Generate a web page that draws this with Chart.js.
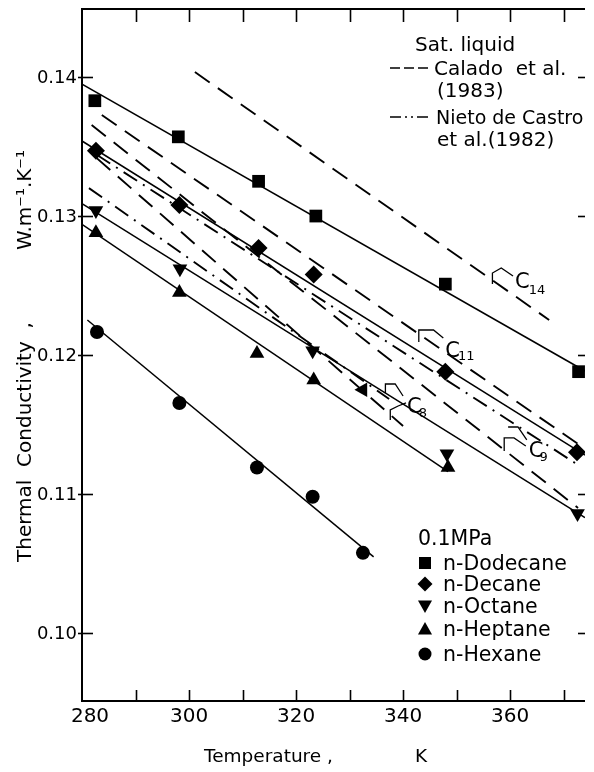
<!DOCTYPE html>
<html><head><meta charset="utf-8">
<script src="https://cdn.jsdelivr.net/npm/chart.js@4/dist/chart.umd.min.js"></script>
<style>html,body{margin:0;padding:0;background:#fff;overflow:hidden}</style>
</head><body>
<canvas id="c" width="594" height="772"></canvas>
<script>
// ---- measured points (Temperature K, thermal conductivity W m-1 K-1), 0.1 MPa ----
const dodecaneT = [282.4, 298.0, 313.0, 323.7, 347.9, 372.8];
const dodecaneK = [0.1383, 0.1357, 0.1325, 0.1300, 0.1251, 0.1188];
const decaneT   = [282.6, 298.2, 313.0, 323.3, 347.9, 372.5];
const decaneK   = [0.1347, 0.1308, 0.1277, 0.1258, 0.1188, 0.1130];
const octaneT   = [282.6, 298.3, 323.1, 332.5, 348.2, 372.6];
const octaneK   = [0.1304, 0.1262, 0.1203, 0.1175, 0.1129, 0.1086];
const heptaneT  = [282.6, 298.2, 312.7, 323.3, 348.4];
const heptaneK  = [0.1288, 0.1245, 0.1201, 0.1182, 0.1119];
const hexaneT   = [282.8, 298.2, 312.7, 323.1, 332.5];
const hexaneK   = [0.12165, 0.11655, 0.1119, 0.1098, 0.10576];

// ---- fitted solid lines (end points) ----
const dodecaneFitT = [280, 374];   const dodecaneFitK = [0.1395, 0.11885];
const decaneFitT   = [280, 374];   const decaneFitK   = [0.1354, 0.1128];
const octaneFitT   = [280, 374];   const octaneFitK   = [0.1309, 0.1083];
const heptaneFitT  = [280, 348.4]; const heptaneFitK  = [0.1294, 0.1116];
const hexaneFitT   = [281, 334.5]; const hexaneFitK   = [0.12252, 0.10547];

// ---- saturated liquid references ----
const calado14T = [301.1, 367.3]; const calado14K = [0.14036, 0.12252];
const calado11T = [283.7, 372.7]; const calado11K = [0.13727, 0.1136];
const calado9T  = [281.8, 372.7]; const calado9K  = [0.13655, 0.10899];
const calado8T  = [282.75, 340];  const calado8K  = [0.13417, 0.11489];
const nieto9T   = [282.75, 372.7]; const nieto9K  = [0.13441, 0.11209];
const nieto8T   = [281.3, 337.4]; const nieto8K   = [0.13201, 0.11683];

// ---- axes ----
const xMin = 280, xMax = 374, yMin = 0.0951, yMax = 0.1449;
const xTickMarks = [290, 300, 310, 320, 330, 340, 350, 360, 370];
const xTickLabels = [280, 300, 320, 340, 360];
const yTickValues = [0.10, 0.11, 0.12, 0.13, 0.14];
const yTickLabels = ['0.10', '0.11', '0.12', '0.13', '0.14'];

// ---- texts ----
const xTitleMain = 'Temperature ,';
const xTitleUnit = 'K';
const yTitleMain = 'Thermal  Conductivity  ,';
const yTitleUnit = 'W.m\u207B\u00B9.K\u207B\u00B9';
const refTitle = 'Sat. liquid';
const refNames = [['Calado  et al.', '(1983)'], ['Nieto de Castro', 'et al.(1982)']];
const seriesNames = ['n-Dodecane', 'n-Decane', 'n-Octane', 'n-Heptane', 'n-Hexane'];
const pressureLabel = '0.1MPa';

// curve labels: [main, subscript, text anchor (T,k), subscript anchor (T,k), bracket polylines in (T,k)]
const curveLabels = [
  {c: 'C', s: '14', at: [360.92, 0.12482], sat: [363.49, 0.12439],
   br: [[[356.70, 0.125108], [356.70, 0.125899], [358.35, 0.126259], [360.55, 0.125683]]]},
  {c: 'C', s: '11', at: [347.89, 0.119856], sat: [350.28, 0.119640],
   br: [[[342.94, 0.120935], [342.94, 0.121799], [345.69, 0.121799], [347.52, 0.121223]]]},
  {c: 'C', s: '9', at: [363.49, 0.112662], sat: [365.50, 0.112374],
   br: [[[359.63, 0.114820], [361.47, 0.114820], [363.12, 0.113885]],
        [[358.90, 0.113094], [358.90, 0.114029], [360.73, 0.114029], [362.94, 0.113453]]]},
  {c: 'C', s: '8', at: [340.73, 0.115827], sat: [342.94, 0.115540],
   br: [[[336.70, 0.117266], [336.70, 0.117914], [338.53, 0.117914], [340.00, 0.117050]],
        [[337.61, 0.115324], [337.61, 0.116043], [339.08, 0.116331], [340.55, 0.116547]]]}
];

function pts(T, K) { return T.map((t, i) => ({x: t, y: K[i]})); }
function markerSet(T, K, style, r, rot) {
  return {data: pts(T, K), pointStyle: style, pointRadius: r, pointHoverRadius: r,
    pointRotation: rot, backgroundColor: '#000', pointBackgroundColor: '#000',
    pointBorderWidth: 0, borderWidth: 0, showLine: false, order: 0};
}
function lineSet(T, K, dash, w) {
  return {data: pts(T, K), showLine: true, borderColor: '#000', borderWidth: w,
    borderDash: dash, pointRadius: 0, pointHoverRadius: 0, fill: false, tension: 0, order: 1};
}

const solidW = 1.5, refW = 1.9;
const caladoDash = [18, 10];
const nietoDash = [16, 7, 2, 7];

const datasets = [
  lineSet(dodecaneFitT, dodecaneFitK, [], solidW),
  lineSet(decaneFitT, decaneFitK, [], solidW),
  lineSet(octaneFitT, octaneFitK, [], solidW),
  lineSet(heptaneFitT, heptaneFitK, [], solidW),
  lineSet(hexaneFitT, hexaneFitK, [], solidW),
  lineSet(calado14T, calado14K, caladoDash, refW),
  lineSet(calado11T, calado11K, caladoDash, refW),
  lineSet(calado9T, calado9K, caladoDash, refW),
  lineSet(calado8T, calado8K, caladoDash, refW),
  lineSet(nieto9T, nieto9K, nietoDash, refW),
  lineSet(nieto8T, nieto8K, nietoDash, refW),
  markerSet(dodecaneT, dodecaneK, 'rect', 9, 0),
  markerSet(decaneT, decaneK, 'rectRot', 9, 0),
  markerSet(octaneT, octaneK, 'triangle', 8.5, [180, 180, 180, 270, 180, 180]),
  markerSet(heptaneT, heptaneK, 'triangle', 8.5, 0),
  markerSet(hexaneT, hexaneK, 'circle', 7, 0)
];

const FONT = '"DejaVu Sans", sans-serif';

function seg(ctx, x1, y1, x2, y2) { ctx.beginPath(); ctx.moveTo(x1, y1); ctx.lineTo(x2, y2); ctx.stroke(); }

function drawMarker(ctx, kind, x, y) {
  ctx.beginPath();
  if (kind === 0) { ctx.rect(x - 6, y - 6, 12, 12); }
  else if (kind === 1) { ctx.moveTo(x, y - 7.5); ctx.lineTo(x + 7.5, y); ctx.lineTo(x, y + 7.5); ctx.lineTo(x - 7.5, y); ctx.closePath(); }
  else if (kind === 2) { ctx.moveTo(x - 7, y - 5.5); ctx.lineTo(x + 7, y - 5.5); ctx.lineTo(x, y + 7); ctx.closePath(); }
  else if (kind === 3) { ctx.moveTo(x - 7, y + 5.5); ctx.lineTo(x + 7, y + 5.5); ctx.lineTo(x, y - 7); ctx.closePath(); }
  else { ctx.arc(x, y, 6.5, 0, Math.PI * 2); }
  ctx.fill();
}

const framePlugin = {
  id: 'frame',
  beforeDatasetsDraw(chart) {
    const ctx = chart.ctx, xs = chart.scales.x, ys = chart.scales.y, ca = chart.chartArea;
    ctx.save();
    ctx.strokeStyle = '#000'; ctx.fillStyle = '#000';
    ctx.lineWidth = 2;
    seg(ctx, ca.left, ca.top - 1, ca.left, ca.bottom + 1);
    seg(ctx, ca.left - 1, ca.bottom, ca.right, ca.bottom);
    seg(ctx, ca.left - 1, ca.top, ca.right, ca.top);
    ctx.lineWidth = 1.6;
    xTickMarks.forEach(t => {
      const px = Math.round(xs.getPixelForValue(t)) + 0.5;
      seg(ctx, px, ca.bottom, px, ca.bottom - 11);
      seg(ctx, px, ca.top, px, ca.top + 13);
    });
    yTickValues.forEach(v => {
      const py = Math.round(ys.getPixelForValue(v)) + 0.5;
      seg(ctx, ca.left - 4, py, ca.left + 11, py);
      seg(ctx, ca.right - 7, py, ca.right, py);
    });
    // tick labels
    ctx.font = '18px ' + FONT;
    ctx.textAlign = 'right'; ctx.textBaseline = 'middle';
    yTickValues.forEach((v, i) => {
      ctx.fillText(yTickLabels[i], ca.left - 5, ys.getPixelForValue(v) + 1);
    });
    ctx.font = '20px ' + FONT;
    ctx.textAlign = 'center';
    xTickLabels.forEach(t => {
      const px = Math.max(xs.getPixelForValue(t), ca.left + 8);
      ctx.fillText(String(t), px, ca.bottom + 16);
    });
    // axis titles
    ctx.textAlign = 'left'; ctx.textBaseline = 'alphabetic';
    ctx.font = '18.5px ' + FONT;
    ctx.fillText(xTitleMain, 204, 762);
    ctx.fillText(xTitleUnit, 415, 762);
    ctx.font = '20px ' + FONT;
    ctx.save(); ctx.translate(31, 562); ctx.rotate(-Math.PI / 2); ctx.fillText(yTitleMain, 0, 0); ctx.restore();
    ctx.save(); ctx.translate(31, 250); ctx.rotate(-Math.PI / 2); ctx.fillText(yTitleUnit, 0, 0); ctx.restore();
    ctx.restore();
  },
  afterDatasetsDraw(chart) {
    const ctx = chart.ctx, xs = chart.scales.x, ys = chart.scales.y;
    const X = t => xs.getPixelForValue(t), Y = k => ys.getPixelForValue(k);
    ctx.save();
    ctx.strokeStyle = '#000'; ctx.fillStyle = '#000';
    // curve labels with brackets
    curveLabels.forEach(l => {
      ctx.lineWidth = 1.3;
      l.br.forEach(poly => {
        ctx.beginPath();
        poly.forEach((p, i) => { const x = X(p[0]), y = Y(p[1]); if (i) ctx.lineTo(x, y); else ctx.moveTo(x, y); });
        ctx.stroke();
      });
      ctx.textAlign = 'left'; ctx.textBaseline = 'alphabetic';
      ctx.font = '21px ' + FONT;
      ctx.fillText(l.c, X(l.at[0]), Y(l.at[1]));
      ctx.font = '13px ' + FONT;
      ctx.fillText(l.s, X(l.sat[0]), Y(l.sat[1]));
    });
    // reference legend (top right)
    ctx.font = '20px ' + FONT;
    ctx.fillText(refTitle, 415, 51);
    ctx.fillText(refNames[0][0], 434, 75);
    ctx.fillText(refNames[0][1], 437, 97);
    ctx.font = '19px ' + FONT;
    ctx.fillText(refNames[1][0], 436, 124);
    ctx.font = '20px ' + FONT;
    ctx.fillText(refNames[1][1], 437, 146);
    ctx.lineWidth = 1.6;
    ctx.setLineDash([10, 4]);
    seg(ctx, 390, 68, 432, 68);
    ctx.setLineDash([11, 4, 2, 4, 2, 4]);
    seg(ctx, 390, 117, 432, 117);
    ctx.setLineDash([]);
    // measured-series legend (bottom right)
    ctx.font = '20.5px ' + FONT;
    ctx.fillText(pressureLabel, 418, 545);
    const baselines = [570, 591, 613, 636, 661];
    seriesNames.forEach((n, i) => {
      drawMarker(ctx, i, 425, baselines[i] - 7);
      ctx.fillText(n, 443, baselines[i]);
    });
    ctx.restore();
  }
};

new Chart(document.getElementById('c'), {
  type: 'scatter',
  data: {datasets},
  options: {
    responsive: false,
    animation: false,
    devicePixelRatio: 1,
    layout: {padding: {left: 82, top: 9, right: 0, bottom: 71}},
    scales: {
      x: {type: 'linear', min: xMin, max: xMax, display: false},
      y: {type: 'linear', min: yMin, max: yMax, display: false}
    },
    plugins: {legend: {display: false}, tooltip: {enabled: false}},
    events: []
  },
  plugins: [framePlugin]
});
</script>
</body></html>
